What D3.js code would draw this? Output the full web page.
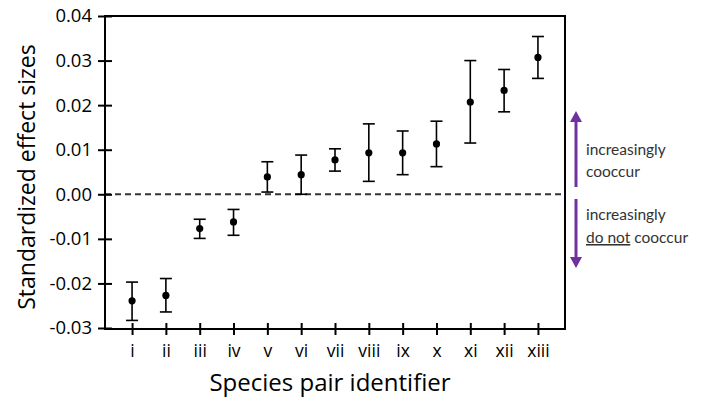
<!DOCTYPE html>
<html><head><meta charset="utf-8">
<script src="https://cdn.jsdelivr.net/npm/d3@7"></script>
<style>html,body{margin:0;padding:0;background:#fff;}svg{display:block;}</style>
</head><body>
<script>
const categories = ["i","ii","iii","iv","v","vi","vii","viii","ix","x","xi","xii","xiii"];
const means = [-0.0239,-0.0227,-0.0077,-0.0062,0.0039,0.0044,0.0077,0.0093,0.0093,0.0113,0.0207,0.0233,0.0307];
const lower = [-0.0283,-0.0264,-0.0099,-0.0092,0.0005,0.0000,0.0052,0.0029,0.0044,0.0062,0.0115,0.0185,0.0260];
const upper = [-0.0197,-0.0189,-0.0056,-0.0034,0.0073,0.0088,0.0102,0.0158,0.0142,0.0164,0.0300,0.0280,0.0354];
const yTicks = [-0.03,-0.02,-0.01,0.00,0.01,0.02,0.03,0.04];

(function(){
const W = 702, H = 402;
const pl = 105, pr = 565, pt = 16, pb = 328;
const svg = d3.select("body").append("svg").attr("width", W).attr("height", H);

const x = d3.scalePoint().domain(categories).range([pl, pr]).padding(0.8);
const y = d3.scaleLinear().domain([-0.03, 0.04]).range([pb, pt]);

const tickFont = "'Open Sans', sans-serif";
const fmt = d => d3.format(".2f")(d).replace("\u2212", "-");

// zero dashed line
svg.append("line").attr("x1", pl).attr("x2", pr).attr("y1", y(0)).attr("y2", y(0))
  .attr("stroke", "#333").attr("stroke-width", 2).attr("stroke-dasharray", "6,4");

// box: top and right border
svg.append("path")
  .attr("d", `M${pl},${y(0.04)}H${pr}V${pb+1}`)
  .attr("fill", "none").attr("stroke", "#000").attr("stroke-width", 2);

// y axis
const yAxis = d3.axisLeft(y).tickValues(yTicks).tickFormat(fmt).tickSizeInner(7).tickSizeOuter(0).tickPadding(6);
const gy = svg.append("g").attr("transform", `translate(${pl},0)`).call(yAxis);
gy.select(".domain").attr("stroke-width", 2).attr("d", `M0,${y(0.04)-1}V${pb+1}`);
gy.selectAll(".tick line").attr("stroke-width", 2).attr("x1", 7);
gy.selectAll(".tick text").attr("font-family", tickFont).attr("font-size", 18.5).attr("fill", "#000");

// x axis
const xAxis = d3.axisBottom(x).tickSizeInner(6).tickSizeOuter(0).tickPadding(10);
const gx = svg.append("g").attr("transform", `translate(0,${pb+1})`).call(xAxis);
gx.select(".domain").attr("stroke-width", 2).attr("d", `M${pl-1},0H${pr+1}`);
gx.selectAll(".tick line").attr("stroke-width", 2).attr("y1", -6);
gx.selectAll(".tick text").attr("font-family", tickFont).attr("font-size", 17.5).attr("fill", "#000");

// error bars
const data = categories.map((c, i) => ({c, m: means[i], lo: lower[i], hi: upper[i]}));
const eb = svg.append("g").attr("stroke", "#000").attr("stroke-width", 1.6).attr("fill", "none");
data.forEach(d => {
  const cx = x(d.c);
  eb.append("line").attr("x1", cx).attr("x2", cx).attr("y1", y(d.lo)).attr("y2", y(d.hi));
  eb.append("line").attr("x1", cx-6).attr("x2", cx+6).attr("y1", y(d.lo)).attr("y2", y(d.lo));
  eb.append("line").attr("x1", cx-6).attr("x2", cx+6).attr("y1", y(d.hi)).attr("y2", y(d.hi));
});
svg.append("g").selectAll("circle").data(data).join("circle")
  .attr("cx", d => x(d.c)).attr("cy", d => y(d.m)).attr("r", 3.6).attr("fill", "#000");

// axis titles
svg.append("text").attr("transform", `translate(35,177) rotate(-90)`)
  .attr("text-anchor", "middle").attr("font-family", tickFont).attr("font-size", 23).attr("fill", "#000")
  .text("Standardized effect sizes");
svg.append("text").attr("x", 330).attr("y", 391)
  .attr("text-anchor", "middle").attr("font-family", tickFont).attr("font-size", 24).attr("fill", "#000")
  .text("Species pair identifier");

// annotation arrows
const purple = "#7030A0";
const ax = 576;
svg.append("line").attr("x1", ax).attr("x2", ax).attr("y1", 120).attr("y2", 187).attr("stroke", purple).attr("stroke-width", 3);
svg.append("path").attr("d", `M${ax},111L${ax-6},122L${ax+6},122Z`).attr("fill", purple);
svg.append("line").attr("x1", ax).attr("x2", ax).attr("y1", 199).attr("y2", 259).attr("stroke", purple).attr("stroke-width", 3);
svg.append("path").attr("d", `M${ax},268L${ax-6},257L${ax+6},257Z`).attr("fill", purple);

const annFont = "Lato, sans-serif";
const ann = svg.append("g").attr("font-family", annFont).attr("font-size", 15.5).attr("fill", "#333");
ann.append("text").attr("x", 586).attr("y", 155).text("increasingly");
ann.append("text").attr("x", 586).attr("y", 177).text("cooccur");
ann.append("text").attr("x", 586).attr("y", 220).text("increasingly");
const t4 = ann.append("text").attr("x", 586).attr("y", 243);
t4.append("tspan").attr("text-decoration", "underline").text("do not");
t4.append("tspan").text(" cooccur");
})();
</script>
</body></html>
